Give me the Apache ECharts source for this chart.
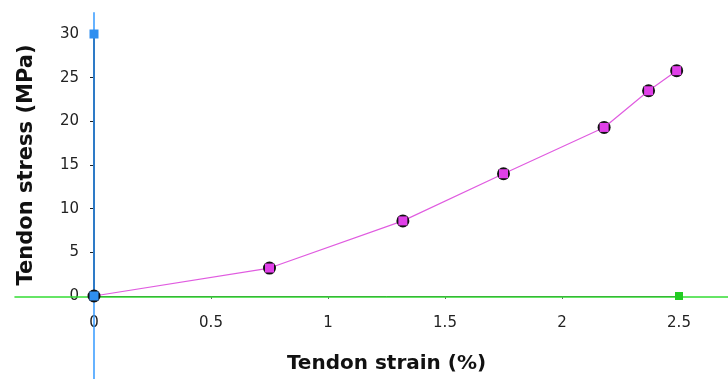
<!DOCTYPE html>
<html>
<head>
<meta charset="utf-8">
<script src="https://cdn.jsdelivr.net/npm/echarts@6/dist/echarts.min.js"></script>
<style>
  html, body { margin: 0; padding: 0; background: #fff; }
  #chart { width: 728px; height: 379px; }
</style>
</head>
<body>
<div id="chart"></div>
<script>
// tendon stress-strain data
const strain = [0, 0.75, 1.32, 1.75, 2.18, 2.37, 2.49]
const stress = [0, 3.2, 8.6, 14.0, 19.3, 23.5, 25.8]
const xTicks = [0, 0.5, 1, 1.5, 2, 2.5]
const yTicks = [0, 5, 10, 15, 20, 25, 30]

// reference markers drawn on the axes (blue at top, green at right end)
const blueMarks = [[0, 30], [0, 0]]
const greenMarks = [[2.5, 0]]

// full-canvas overlay axes, scaled so 0,0 sits on the main origin
const overlayX = [-0.4017, 2.7094]
const overlayY = [-9.36, 33.9]
const blueLine = [[0, -9.36], [0, 32.5]]
const greenLine = [[-0.34, 0], [2.7094, 0]]

const pts = strain.map((x, i) => [x, stress[i]])

const font = 'DejaVu Sans'
const chart = echarts.init(document.getElementById('chart'))
chart.setOption({
  animation: false,
  grid: [
    { left: 94, right: 49, top: 34, bottom: 82 },
    { left: 0, right: 0, top: 0, bottom: 0 },
  ],
  xAxis: [
    {
      type: 'value', gridIndex: 0, min: xTicks[0], max: xTicks[xTicks.length - 1], interval: 0.5,
      name: 'Tendon strain (%)', nameLocation: 'middle', nameGap: 58,
      nameTextStyle: { fontFamily: font, fontWeight: 'bold', fontSize: 20, color: '#111' },
      axisLine: { lineStyle: { color: '#444', width: 1 } },
      axisTick: { length: 3, lineStyle: { color: '#666' } },
      axisLabel: { margin: 20, fontFamily: font, fontSize: 15, color: '#222' },
      splitLine: { show: false },
    },
    { type: 'value', gridIndex: 1, min: overlayX[0], max: overlayX[1], show: false },
  ],
  yAxis: [
    {
      type: 'value', gridIndex: 0, min: yTicks[0], max: yTicks[yTicks.length - 1], interval: 5,
      name: 'Tendon stress (MPa)', nameLocation: 'middle', nameGap: 57,
      nameTextStyle: { fontFamily: font, fontWeight: 'bold', fontSize: 21, color: '#111' },
      axisLine: { show: true, lineStyle: { color: '#222', width: 2 } },
      axisTick: { show: true, length: 4, lineStyle: { color: '#222' } },
      axisLabel: { margin: 15, fontFamily: font, fontSize: 15, color: '#222' },
      splitLine: { show: false },
    },
    { type: 'value', gridIndex: 1, min: overlayY[0], max: overlayY[1], show: false },
  ],
  series: [
    {
      type: 'line', xAxisIndex: 1, yAxisIndex: 1, data: greenLine, symbol: 'none', z: 3,
      lineStyle: { color: '#33dd33', width: 1.5 }, silent: true,
    },
    {
      type: 'line', xAxisIndex: 1, yAxisIndex: 1, data: blueLine, symbol: 'none', z: 3,
      lineStyle: { color: '#3399ff', width: 1.5 }, silent: true,
    },
    {
      type: 'scatter', data: greenMarks, symbol: 'rect', symbolSize: 8, z: 4,
      itemStyle: { color: '#22cc22', opacity: 1 },
    },
    {
      type: 'line', data: pts, z: 5,
      lineStyle: { color: '#e05ce0', width: 1.2 },
      symbol: 'circle', symbolSize: 13,
      itemStyle: { color: '#111', opacity: 1 },
    },
    {
      type: 'scatter', data: pts.slice(1), symbol: 'rect', symbolSize: 9, z: 6,
      itemStyle: { color: '#e040e8', opacity: 1 },
    },
    {
      type: 'scatter', data: blueMarks, symbol: 'rect', symbolSize: 9, z: 7,
      itemStyle: { color: '#2f8ff0', opacity: 1 },
    },
  ],
})
</script>
</body>
</html>
